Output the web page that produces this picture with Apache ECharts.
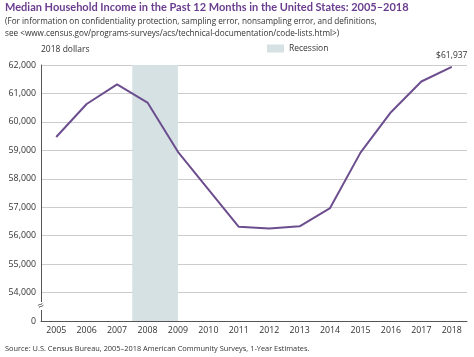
<!DOCTYPE html>
<html><head><meta charset="utf-8">
<script src="https://cdn.jsdelivr.net/npm/echarts@6/dist/echarts.min.js"></script>
<style>html,body{margin:0;padding:0;background:#fff}#c{width:474px;height:357px}</style>
</head><body><div id="c"></div>
<script>
const years = ['2005','2006','2007','2008','2009','2010','2011','2012','2013','2014','2015','2016','2017','2018'];
const income = [59470, 60630, 61320, 60680, 58950, 57630, 56310, 56250, 56330, 56970, 58920, 60340, 61420, 61937];
const recession = [2007.5, 2009];
const yTicks = [53000, 62000, 1000];

const FONT = '"Open Sans", sans-serif';
const TFONT = 'Lato, sans-serif';
const chart = echarts.init(document.getElementById('c'));
const firstYear = +years[0];
chart.setOption({
  animation: false,
  textStyle: {fontFamily: FONT},
  title: [
    {text: 'Median Household Income in the Past 12 Months in the United States: 2005–2018',
     left: 5, top: 2, padding: 0, textStyle: {fontSize: 11, fontWeight: 'bold', color: '#6a3d8f', fontFamily: TFONT}},
    {text: '(For information on confidentiality protection, sampling error, nonsampling error, and definitions,\nsee <www.census.gov/programs-surveys/acs/technical-documentation/code-lists.html>)',
     left: 5, top: 16, padding: 0, textStyle: {fontSize: 8.2, fontWeight: 'normal', color: '#333', lineHeight: 11.5, fontFamily: FONT}},
    {text: '2018 dollars', left: 41, top: 45, padding: 0, textStyle: {fontSize: 8.5, fontWeight: 'normal', color: '#333', fontFamily: FONT}},
    {text: 'Source: U.S. Census Bureau, 2005–2018 American Community Surveys, 1-Year Estimates.',
     left: 5, top: 345, padding: 0, textStyle: {fontSize: 7.4, fontWeight: 'normal', color: '#333', fontFamily: FONT}}
  ],
  legend: {
    left: 267, top: 44, padding: 0, itemWidth: 17, itemHeight: 8, itemGap: 5,
    textStyle: {fontSize: 8.5, color: '#333', fontFamily: FONT},
    data: [{name: 'Recession', icon: 'rect', itemStyle: {color: '#d5e1e3'}}]
  },
  grid: {left: 41, right: 7, top: 65, bottom: 36, containLabel: false},
  xAxis: [
    {type: 'category', data: years, boundaryGap: true,
     axisLine: {lineStyle: {color: '#555', width: 1}},
     axisTick: {alignWithLabel: true, inside: true, length: 4, lineStyle: {color: '#555'}},
     axisLabel: {fontSize: 8.8, color: '#333', margin: 5}},
    {type: 'value', min: 0, max: years.length, show: false}
  ],
  yAxis: {
    type: 'value', min: yTicks[0], max: yTicks[1], interval: yTicks[2],
    axisLine: {show: true, lineStyle: {color: '#555', width: 1}},
    axisTick: {show: false},
    splitLine: {lineStyle: {color: '#cccccc', width: 1}},
    axisLabel: {fontSize: 8.8, color: '#333', margin: 5,
      formatter: v => v === yTicks[0] ? '0' : v.toLocaleString('en-US')}
  },
  graphic: [
    {type: 'rect', shape: {x: 36, y: 302, width: 10, height: 8}, style: {fill: '#fff'}, z: 100},
    {type: 'text', x: 41, y: 306, style: {text: '≈', fontSize: 11, fill: '#555', align: 'center', verticalAlign: 'middle', fontFamily: FONT}, rotation: 0.5, z: 101}
  ],
  series: [
    {name: 'Recession', type: 'line', xAxisIndex: 1, data: [],
     markArea: {silent: true, itemStyle: {color: '#d5e1e3'},
       data: [[{xAxis: recession[0] - firstYear + 0.5}, {xAxis: recession[1] - firstYear + 0.5}]]}},
    {name: 'Income', type: 'line', data: income, symbol: 'circle', symbolSize: 1, showSymbol: true,
     itemStyle: {color: 'rgba(0,0,0,0)'},
     lineStyle: {color: '#6c4e8f', width: 2}, z: 5,
     label: {show: true, position: 'top', distance: 6, fontSize: 8.5, color: '#333',
       formatter: p => p.dataIndex === income.length - 1 ? '$' + p.value.toLocaleString('en-US') : ''}}
  ]
});
</script></body></html>
